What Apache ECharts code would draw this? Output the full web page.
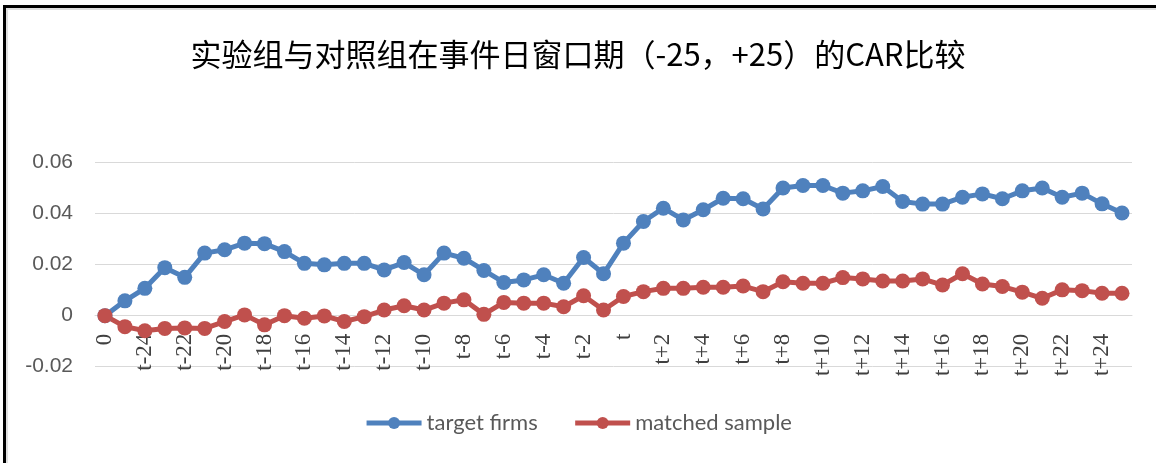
<!DOCTYPE html>
<html>
<head>
<meta charset="utf-8">
<script src="https://cdn.jsdelivr.net/npm/echarts@6/dist/echarts.min.js"></script>
<style>
  body { margin: 0; background: #fff; }
  #myChart { position: absolute; left: 0; top: 0; width: 1156px; height: 463px; }
  #frame {
    position: absolute; left: 3px; top: 5px; right: -20px; bottom: -20px;
    border-left: 3px solid #000; border-top: 3px solid #000;
    box-shadow: inset 2px 2px 0 #e0e0e0; pointer-events: none;
  }
</style>
</head>
<body>
<div id="myChart"></div>
<div id="frame"></div>
<script>
// 事件日窗口期类别：0, t-25 ... t-1, t, t+1 ... t+25
var categories = ["0"];
for (var i = 25; i >= 1; i--) categories.push("t-" + i);
categories.push("t");
for (var i = 1; i <= 25; i++) categories.push("t+" + i);

// target firms (实验组)
var targetFirms = [
  0, 0.0058, 0.0107, 0.0188, 0.0150, 0.0245, 0.0258, 0.0284, 0.0282, 0.0251,
  0.0205, 0.0199, 0.0205, 0.0205, 0.0179, 0.0208, 0.0160, 0.0245, 0.0225, 0.0177,
  0.0130, 0.0140, 0.0160, 0.0127, 0.0228, 0.0164, 0.0284, 0.0369, 0.0421, 0.0375,
  0.0415, 0.0460, 0.0458, 0.0418, 0.0500, 0.0510, 0.0510, 0.0480, 0.0489, 0.0506,
  0.0447, 0.0437, 0.0437, 0.0464, 0.0477, 0.0458, 0.0489, 0.0500, 0.0464, 0.0480,
  0.0438, 0.0402
];

// matched sample (对照组)
var matchedSample = [
  0, -0.0043, -0.0059, -0.0050, -0.0048, -0.0050, -0.0023, 0.0003, -0.0036, 0.0000,
  -0.0010, -0.0001, -0.0023, -0.0004, 0.0022, 0.0039, 0.0022, 0.0049, 0.0062, 0.0005,
  0.0052, 0.0049, 0.0049, 0.0035, 0.0078, 0.0022, 0.0075, 0.0094, 0.0107, 0.0107,
  0.0111, 0.0111, 0.0116, 0.0094, 0.0133, 0.0127, 0.0127, 0.0149, 0.0144, 0.0136,
  0.0136, 0.0144, 0.0120, 0.0164, 0.0124, 0.0114, 0.0092, 0.0068, 0.0101, 0.0098,
  0.0088, 0.0088
];

var yTicks = [-0.02, 0, 0.02, 0.04, 0.06];

var myChart = echarts.init(document.getElementById("myChart"));
var option = {
  animation: false,
  title: {
    text: "实验组与对照组在事件日窗口期（-25，+25）的CAR比较",
    left: "center",
    top: 34,
    textStyle: {
      color: "#000",
      fontSize: 31,
      fontWeight: "normal",
      fontFamily: "Noto Sans CJK SC"
    }
  },
  legend: {
    bottom: 24,
    left: "center",
    itemWidth: 55,
    itemHeight: 15,
    itemGap: 35,
    lineStyle: { width: 5 },
    textStyle: { color: "#595959", fontSize: 22, fontFamily: "Lato" },
    data: ["target firms", "matched sample"]
  },
  grid: { left: 95, right: 24, top: 162.5, bottom: 96.3 },
  xAxis: {
    type: "category",
    data: categories,
    boundaryGap: true,
    offset: -51,
    axisLine: { onZero: false, lineStyle: { color: "#d9d9d9" } },
    axisTick: { show: false },
    axisLabel: {
      interval: 1,
      rotate: 90,
      margin: 18,
      color: "#404040",
      fontSize: 23,
      fontFamily: "Liberation Serif"
    }
  },
  yAxis: {
    type: "value",
    min: yTicks[0],
    max: yTicks[yTicks.length - 1],
    interval: 0.02,
    axisLine: { show: false },
    axisTick: { show: false },
    splitLine: { lineStyle: { color: "#d9d9d9" } },
    axisLabel: {
      margin: 22,
      color: "#595959",
      fontSize: 21,
      fontFamily: "Liberation Sans",
      formatter: function (v) {
        return Math.abs(v) < 1e-9 ? "0" : v.toFixed(2);
      }
    }
  },
  series: [
    {
      name: "target firms",
      type: "line",
      data: targetFirms,
      symbol: "circle",
      symbolSize: 15,
      showAllSymbol: true,
      lineStyle: { width: 5, color: "#4f81bd" },
      itemStyle: { color: "#4f81bd" }
    },
    {
      name: "matched sample",
      type: "line",
      data: matchedSample,
      symbol: "circle",
      symbolSize: 15,
      showAllSymbol: true,
      lineStyle: { width: 5, color: "#c0504d" },
      itemStyle: { color: "#c0504d" }
    }
  ]
};
myChart.setOption(option);
</script>
</body>
</html>
